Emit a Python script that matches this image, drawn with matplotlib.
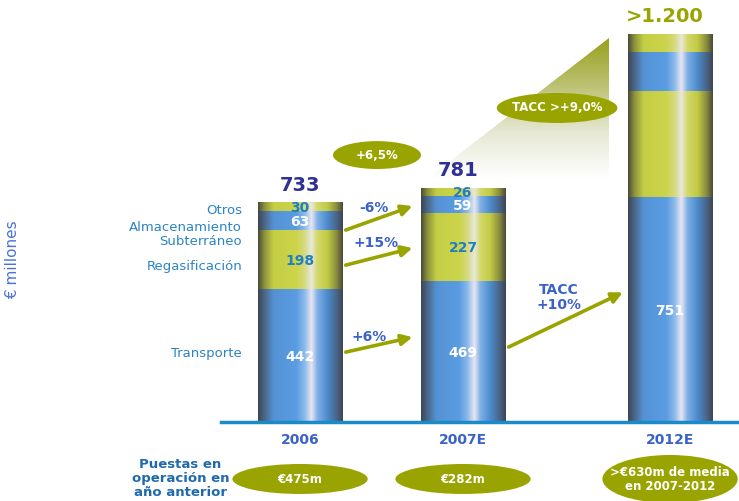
import numpy as np
import matplotlib
matplotlib.use('Agg')
import matplotlib.pyplot as plt
from matplotlib.colors import LinearSegmentedColormap
from matplotlib.patches import Ellipse, Polygon

# data
categories = ['2006', '2007E', '2012E']
x_pos = [0, 1, 2.27]
segments = ['Transporte', 'Regasificación', 'Almacenamiento\nSubterráneo', 'Otros']
seg_kind = ['blue', 'yellow', 'blue', 'yellow']
vals_2006 = [442, 198, 63, 30]
vals_2007 = [469, 227, 59, 26]
vals_2012 = [751, 353, 130, 60]
show_labels = [[True, True, True, True], [True, True, True, True], [True, False, False, False]]
totals = ['733', '781', '>1.200']
growth = ['+6%', '+15%', '-6%']
puestas = ['€475m', '€282m', '>€630m de media\nen 2007-2012']

BLUE_TXT = '#3a62c8'
OLIVE = '#9aa400'
NAVY = '#2e3192'

blue_cm = LinearSegmentedColormap.from_list('cyl_blue', [
    (0, '#3d4656'), (0.07, '#4b6584'), (0.18, '#5592d4'), (0.45, '#5a9ce2'),
    (0.55, '#8cbaea'), (0.63, '#e8e6f2'), (0.7, '#80b0e6'), (0.82, '#4c8bcc'),
    (0.93, '#4a6488'), (1, '#3d4656')])
yellow_cm = LinearSegmentedColormap.from_list('cyl_yellow', [
    (0, '#4c4c38'), (0.07, '#8a8f3c'), (0.18, '#c4ce44'), (0.45, '#ccd44a'),
    (0.55, '#d6da80'), (0.63, '#e8e8dc'), (0.7, '#d2d868'), (0.82, '#c2ca44'),
    (0.93, '#868a3e'), (1, '#4c4c38')])
wedge_cm = LinearSegmentedColormap.from_list('wedge', ['#ffffff', '#e6e8d4', '#bcc172', '#98a01c'])

fig = plt.figure(figsize=(7.39, 5.01), dpi=100)
ax = fig.add_axes([221 / 739, 79 / 501, 518 / 739, 422 / 501])

# shaded growth wedge between 2007E and 2012E
wx0, wx1, wy0, wy1 = 0.78, 1.894, 810, 1280
grad = np.linspace(0, 1, 256)[:, None]
im = ax.imshow(grad, cmap=wedge_cm, extent=[wx0, wx1, wy0, wy1], origin='lower',
               aspect='auto', interpolation='bilinear', zorder=1)
tri = Polygon([(wx0, wy0), (wx1, wy0), (wx1, wy1)], closed=True, transform=ax.transData,
              facecolor='none', edgecolor='none')
ax.add_patch(tri)
im.set_clip_path(tri)

# cylinder-like stacked bars
width = 0.52
cyl = np.linspace(0, 1, 300)[None, :]
for i, vals in enumerate([vals_2006, vals_2007, vals_2012]):
    x = x_pos[i]
    bottom = 0
    for j, v in enumerate(vals):
        cmap = blue_cm if seg_kind[j] == 'blue' else yellow_cm
        ax.imshow(cyl, cmap=cmap, extent=[x - width / 2, x + width / 2, bottom, bottom + v],
                  aspect='auto', interpolation='bilinear', zorder=3)
        if show_labels[i][j]:
            col = 'white' if seg_kind[j] == 'blue' else '#1f7fc0'
            ax.text(x, bottom + v / 2 - 4, str(v), ha='center', va='center', color=col,
                    fontsize=10, fontweight='bold', zorder=5)
        bottom += v
    tcol = OLIVE if i == 2 else NAVY
    ax.text(x - (0.03 if i else 0), bottom + 25, totals[i], ha='center', va='bottom',
            color=tcol, fontsize=14, fontweight='bold', zorder=5)
ax.set_xlim(-0.485, 2.693)
ax.set_ylim(0, 1407)

# segment names on the left of the first bar
label_y = [230, 520, 625, 705]
for j, name in enumerate(segments):
    ax.text(-0.355, label_y[j], name, ha='right', va='center',
            color='#2a84c6', fontsize=9.5, clip_on=False, linespacing=1.15)

# growth arrows 2006 -> 2007E
arr = dict(arrowstyle='-|>', color=OLIVE, lw=2.6, mutation_scale=16, shrinkA=0, shrinkB=0)
arrow_y = [(233, 283), (523, 580), (640, 720)]
text_xy = [(0.423, 282), (0.466, 598), (0.454, 713)]
for (y0, y1), (tx, ty), lab in zip(arrow_y, text_xy, growth):
    ax.annotate('', xy=(0.69, y1), xytext=(0.28, y0), arrowprops=arr, zorder=4)
    ax.text(tx, ty, lab, ha='center', va='center', color=BLUE_TXT,
            fontsize=10, fontweight='bold')
ax.annotate('', xy=(1.98, 432), xytext=(1.28, 250), arrowprops=arr, zorder=4)
ax.text(1.59, 415, 'TACC\n+10%', ha='center', va='center', color=BLUE_TXT,
        fontsize=10, fontweight='bold', linespacing=1.1)

# green ellipses with growth rates
ax.add_patch(Ellipse((0.472, 890), 0.54, 93, facecolor=OLIVE, edgecolor='none', zorder=4))
ax.text(0.472, 890, '+6,5%', ha='center', va='center', color='white', fontsize=8.5,
        fontweight='bold', zorder=5)
ax.add_patch(Ellipse((1.577, 1047), 0.74, 100, facecolor=OLIVE, edgecolor='none', zorder=4))
ax.text(1.577, 1047, 'TACC >+9,0%', ha='center', va='center', color='white', fontsize=8.5,
        fontweight='bold', zorder=5)

# bottom row: puestas en operacion
ell_h = [100, 100, 160]
for i, txt in enumerate(puestas):
    ax.add_patch(Ellipse((x_pos[i], -190), 0.83, ell_h[i], facecolor=OLIVE, edgecolor='none',
                         clip_on=False, zorder=4))
    ax.text(x_pos[i], -192, txt, ha='center', va='center', color='white', fontsize=8.5,
            fontweight='bold', clip_on=False, zorder=5, linespacing=1.15)
ax.text(-0.735, -187, 'Puestas en\noperación en\naño anterior', ha='center', va='center',
        color='#1f6aac', fontsize=9.5, fontweight='bold', clip_on=False, linespacing=1.1)

# axis styling
for s in ['top', 'right', 'left']:
    ax.spines[s].set_visible(False)
ax.spines['bottom'].set_color('#1a8ac8')
ax.spines['bottom'].set_linewidth(2.5)
ax.spines['bottom'].set_zorder(6)
ax.set_yticks([])
ax.set_xticks(x_pos)
ax.set_xticklabels(categories, color=BLUE_TXT, fontsize=10, fontweight='bold')
ax.tick_params(axis='x', length=0, pad=8)

fig.text(13 / 739, 1 - 260 / 501, '€ millones', rotation=90, ha='center', va='center',
         color='#4a72d8', fontsize=11)

plt.savefig('out.png', dpi=100)
